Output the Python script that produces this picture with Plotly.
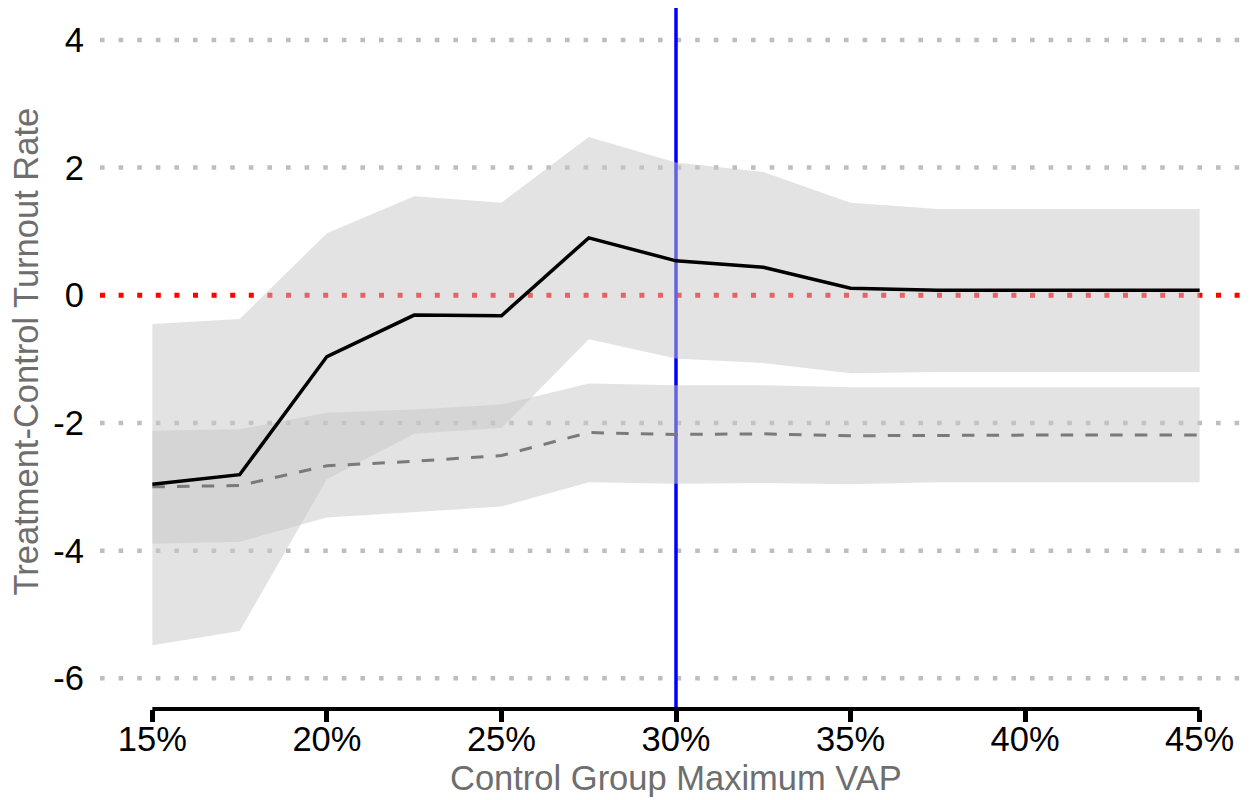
import plotly.graph_objects as go

# Data
vap = [15, 17.5, 20, 22.5, 25, 27.5, 30, 32.5, 35, 37.5, 40, 42.5, 45]
est = [-2.96, -2.81, -0.96, -0.31, -0.32, 0.90, 0.54, 0.44, 0.11, 0.08, 0.08, 0.08, 0.08]
est_hi = [-0.45, -0.37, 0.97, 1.55, 1.45, 2.48, 2.08, 1.93, 1.45, 1.35, 1.35, 1.35, 1.35]
est_lo = [-5.48, -5.26, -2.88, -2.17, -2.08, -0.69, -0.99, -1.06, -1.22, -1.20, -1.20, -1.20, -1.20]
placebo = [-3.00, -2.98, -2.67, -2.60, -2.51, -2.15, -2.18, -2.17, -2.20, -2.19, -2.19, -2.19, -2.19]
placebo_hi = [-2.12, -2.10, -1.84, -1.79, -1.71, -1.38, -1.41, -1.41, -1.44, -1.44, -1.44, -1.44, -1.44]
placebo_lo = [-3.89, -3.86, -3.48, -3.40, -3.31, -2.93, -2.95, -2.94, -2.96, -2.93, -2.93, -2.93, -2.93]

x_ticks = [15, 20, 25, 30, 35, 40, 45]
x_ticktext = ["15%", "20%", "25%", "30%", "35%", "40%", "45%"]
y_ticks = [-6, -4, -2, 0, 2, 4]
cutoff = 30

FONT = "Liberation Sans, Arial, sans-serif"
BAND = "rgba(200,200,200,0.5)"
FS = 34.5

fig = go.Figure()

# bands
fig.add_trace(go.Scatter(x=vap, y=est_hi, mode="lines", line=dict(width=0), hoverinfo="skip", showlegend=False))
fig.add_trace(go.Scatter(x=vap, y=est_lo, mode="lines", line=dict(width=0), fill="tonexty",
                         fillcolor=BAND, hoverinfo="skip", showlegend=False))
fig.add_trace(go.Scatter(x=vap, y=placebo_hi, mode="lines", line=dict(width=0), hoverinfo="skip", showlegend=False))
fig.add_trace(go.Scatter(x=vap, y=placebo_lo, mode="lines", line=dict(width=0), fill="tonexty",
                         fillcolor=BAND, hoverinfo="skip", showlegend=False))
# lines
fig.add_trace(go.Scatter(x=vap, y=placebo, mode="lines", line=dict(color="#7a7a7a", width=3, dash="12.5px,12.2px"),
                         showlegend=False))
fig.add_trace(go.Scatter(x=vap, y=est, mode="lines", line=dict(color="black", width=3.5), showlegend=False))

shapes = []
for v in y_ticks:
    if v == 0:
        shapes.append(dict(type="line", xref="paper", x0=0, x1=1, yref="y", y0=v, y1=v,
                           line=dict(color="red", width=5, dash="5px,13.6px"), layer="between"))
    else:
        shapes.append(dict(type="line", xref="paper", x0=0, x1=1, yref="y", y0=v, y1=v,
                           line=dict(color="#bebebe", width=4.5, dash="4.6px,14px"), layer="between"))
# vertical cutoff line
shapes.append(dict(type="line", xref="x", x0=cutoff, x1=cutoff, yref="paper", y0=0, y1=1,
                   line=dict(color="blue", width=3.5), layer="between"))
# x axis line over data range
shapes.append(dict(type="line", xref="x", x0=vap[0], x1=vap[-1], yref="paper", y0=0, y1=0,
                   line=dict(color="black", width=4), layer="above"))

annotations = [
    dict(text="Control Group Maximum VAP", xref="x", x=cutoff, yref="paper", y=-0.0986,
         xanchor="center", yanchor="middle", showarrow=False,
         font=dict(family=FONT, size=FS, color="#6e6e6e")),
    dict(text="Treatment-Control Turnout Rate", xref="paper", x=(18 - 92) / 1152, yref="paper", y=0.51,
         xanchor="center", yanchor="middle", showarrow=False, textangle=-90,
         font=dict(family=FONT, size=FS, color="#6e6e6e")),
]

# the page body adds an 8px offset, so the figure is sized to fill the rest of the window
fig.update_layout(
    width=1251, height=792,
    margin=dict(l=92, r=7, t=0, b=90.5, autoexpand=False),
    paper_bgcolor="white", plot_bgcolor="white",
    font=dict(family=FONT, size=FS, color="black"),
    shapes=shapes,
    annotations=annotations,
    xaxis=dict(range=[13.5, 46.5], tickvals=x_ticks, ticktext=x_ticktext,
               ticks="outside", ticklen=12, tickwidth=4.5, tickcolor="black",
               showgrid=False, zeroline=False, showline=False, automargin=False,
               ticklabelstandoff=-12,
               tickfont=dict(family=FONT, size=FS, color="black")),
    yaxis=dict(range=[-6.48, 4.5], tickvals=y_ticks, ticktext=[str(v) for v in y_ticks],
               showgrid=False, zeroline=False, showline=False, ticks="", automargin=False,
               ticklabelstandoff=15,
               tickfont=dict(family=FONT, size=FS, color="black")),
)

fig.write_html("out.html")
